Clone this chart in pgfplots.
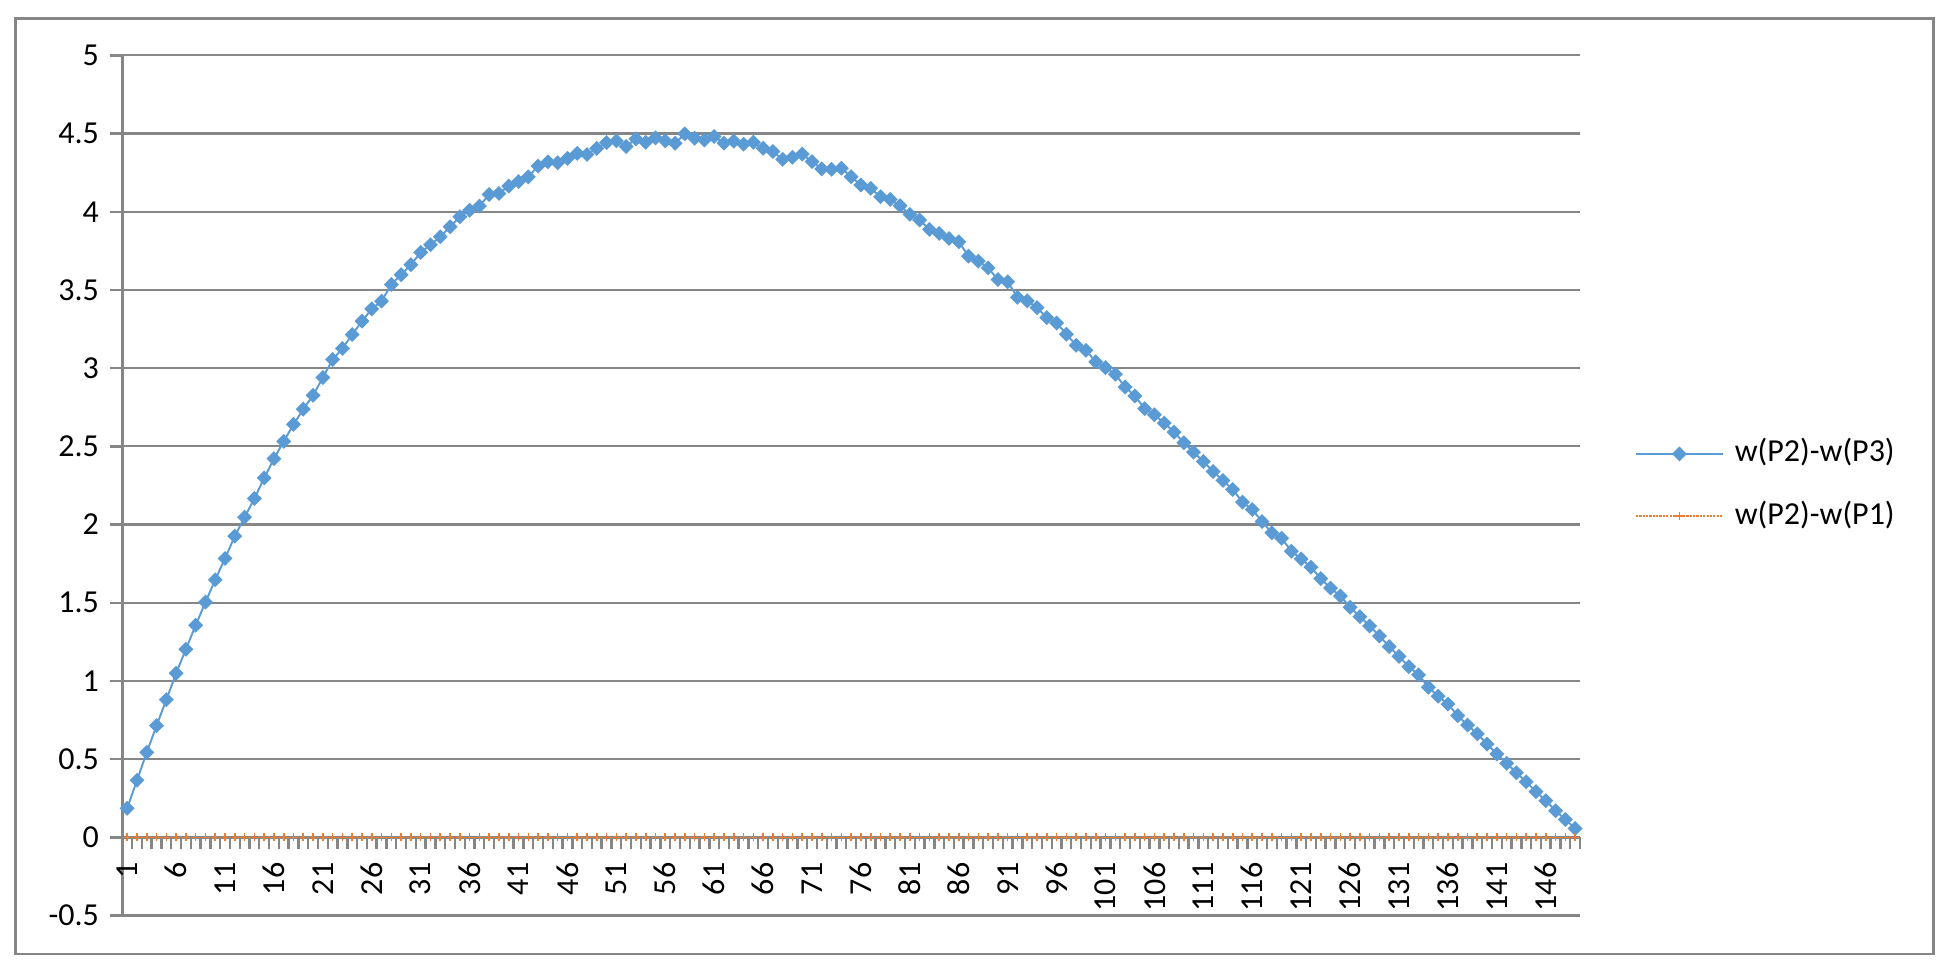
\documentclass[border=0pt]{standalone}
\usepackage{fontspec}
\setmainfont{Carlito}
\usepackage{pgfplots}
\pgfplotsset{compat=1.18}
\usepackage{pgfplotstable}
\definecolor{eblue}{RGB}{91,155,213}
\definecolor{eorange}{RGB}{237,125,49}
\definecolor{egrid}{RGB}{134,134,134}

\pgfplotstableread{
x y z
1 0.186 0
2 0.365 0
3 0.543 0
4 0.714 0
5 0.880 0
6 1.049 0
7 1.203 0
8 1.356 0
9 1.504 0
10 1.647 0
11 1.783 0
12 1.926 0
13 2.047 0
14 2.166 0
15 2.298 0
16 2.421 0
17 2.532 0
18 2.640 0
19 2.738 0
20 2.826 0
21 2.940 0
22 3.055 0
23 3.126 0
24 3.215 0
25 3.300 0
26 3.379 0
27 3.428 0
28 3.535 0
29 3.597 0
30 3.661 0
31 3.740 0
32 3.789 0
33 3.840 0
34 3.904 0
35 3.968 0
36 4.010 0
37 4.036 0
38 4.110 0
39 4.117 0
40 4.164 0
41 4.193 0
42 4.223 0
43 4.292 0
44 4.319 0
45 4.313 0
46 4.341 0
47 4.373 0
48 4.366 0
49 4.405 0
50 4.442 0
51 4.453 0
52 4.417 0
53 4.466 0
54 4.444 0
55 4.472 0
56 4.453 0
57 4.438 0
58 4.498 0
59 4.470 0
60 4.459 0
61 4.481 0
62 4.438 0
63 4.451 0
64 4.432 0
65 4.444 0
66 4.406 0
67 4.385 0
68 4.335 0
69 4.348 0
70 4.368 0
71 4.321 0
72 4.274 0
73 4.271 0
74 4.278 0
75 4.224 0
76 4.171 0
77 4.150 0
78 4.096 0
79 4.079 0
80 4.038 0
81 3.983 0
82 3.947 0
83 3.887 0
84 3.861 0
85 3.829 0
86 3.808 0
87 3.716 0
88 3.684 0
89 3.641 0
90 3.566 0
91 3.552 0
92 3.453 0
93 3.430 0
94 3.387 0
95 3.323 0
96 3.289 0
97 3.217 0
98 3.146 0
99 3.114 0
100 3.040 0
101 3.003 0
102 2.961 0
103 2.879 0
104 2.822 0
105 2.741 0
106 2.702 0
107 2.649 0
108 2.591 0
109 2.523 0
110 2.463 0
111 2.403 0
112 2.339 0
113 2.282 0
114 2.224 0
115 2.143 0
116 2.096 0
117 2.019 0
118 1.947 0
119 1.912 0
120 1.829 0
121 1.780 0
122 1.727 0
123 1.654 0
124 1.594 0
125 1.543 0
126 1.471 0
127 1.411 0
128 1.351 0
129 1.287 0
130 1.219 0
131 1.157 0
132 1.091 0
133 1.039 0
134 0.960 0
135 0.902 0
136 0.852 0
137 0.778 0
138 0.718 0
139 0.662 0
140 0.596 0
141 0.533 0
142 0.473 0
143 0.413 0
144 0.355 0
145 0.292 0
146 0.234 0
147 0.170 0
148 0.114 0
149 0.056 0
}\dataA

\begin{document}
\begin{tikzpicture}
\useasboundingbox (0,0) rectangle (609.69pt,305.94pt);
\draw[egrid, line width=0.9pt] (4.9pt,7.8pt) rectangle (604.1pt,300.1pt);
\begin{axis}[
  at={(38.22pt,19.84pt)}, anchor=south west,
  scale only axis, width=455.53pt, height=268.81pt,
  xmin=0.5, xmax=149.5, ymin=-0.5, ymax=5,
  axis x line=middle, axis y line=left,
  axis line style={-, egrid},
  y axis line style={line width=0.9pt},
  x axis line style={line width=0.75pt},
  ymajorgrids, grid style={egrid, line width=0.7pt},
  ytick={-0.5,0,0.5,1,1.5,2,2.5,3,3.5,4,4.5,5},
  yticklabels={-0.5,0,0.5,1,1.5,2,2.5,3,3.5,4,4.5,5},
  xtick={0.5,1.5,...,149.5}, xticklabels={},
  extra x ticks={1,6,...,146},
  extra x tick labels={1,6,11,16,21,26,31,36,41,46,51,56,61,66,71,76,81,86,91,96,101,106,111,116,121,126,131,136,141,146},
  extra x tick style={major tick length=0pt, tick style={draw=none}, xticklabel style={yshift=-4.4pt, rotate=90, anchor=east}},
  tick align=outside, major tick length=3.8pt,
  tick style={egrid, line width=0.75pt},
  hide obscured x ticks=false, hide obscured y ticks=false,
  tick label style={font=\fontsize{10}{12}\selectfont, text=black},
  legend style={at={(1.0377,0.5005)}, anchor=west, draw=none, fill=none, inner sep=0pt, outer sep=0pt,
    row sep=10.4pt, column sep=3.4pt, font=\fontsize{10}{12}\selectfont,
    nodes={inner sep=0pt, text height=7pt, text depth=2pt}},
  legend cell align=left,
  legend image code/.code={\draw[mark repeat=2,mark phase=2,#1] plot coordinates {(0pt,0pt) (13.6pt,0pt) (27.2pt,0pt)};},
]
\addplot[eblue, line width=0.6pt, mark=square*, mark size=1.35pt, mark options={rotate=45, fill=eblue, draw=eblue, solid}] table[x=x,y=y] {\dataA};
\addlegendentry{w(P2)-w(P3)}
\addplot[eorange, line width=0.5pt, dash pattern=on 0.7pt off 0.35pt, mark=+, mark size=1.3pt, mark options={solid, line width=0.5pt}] table[x=x,y=z] {\dataA};
\addlegendentry{w(P2)-w(P1)}
\end{axis}
\end{tikzpicture}
\end{document}
